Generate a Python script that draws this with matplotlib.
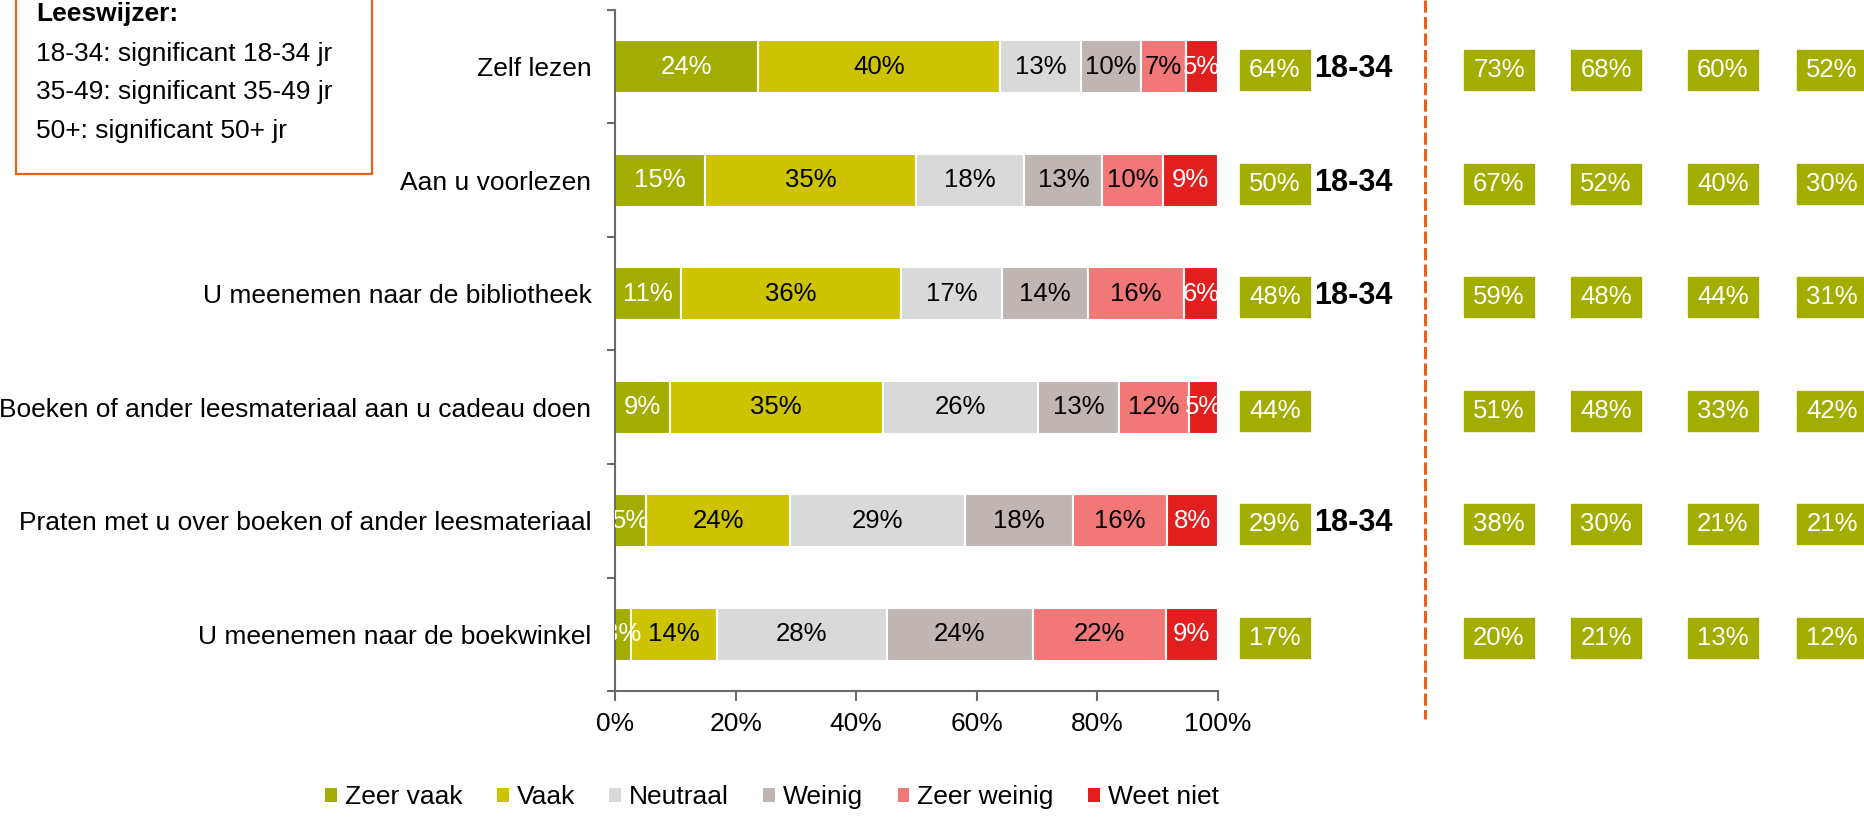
import numpy as np
import matplotlib.pyplot as plt
from matplotlib.patches import Rectangle, Patch

plt.rcParams['font.family'] = ['Liberation Sans', 'DejaVu Sans']

categories = ["Zelf lezen",
              "Aan u voorlezen",
              "U meenemen naar de bibliotheek",
              "Boeken of ander leesmateriaal aan u cadeau doen",
              "Praten met u over boeken of ander leesmateriaal",
              "U meenemen naar de boekwinkel"]
series_names = ["Zeer vaak", "Vaak", "Neutraal", "Weinig", "Zeer weinig", "Weet niet"]

zeer_vaak = [23.7, 15.0, 11.0, 9.1, 5.2, 2.6]
vaak = [40.2, 34.9, 36.4, 35.3, 23.9, 14.3]
neutraal = [13.4, 18.0, 16.8, 25.8, 28.9, 28.2]
weinig = [10.0, 12.9, 14.2, 13.4, 17.9, 24.2]
zeer_weinig = [7.4, 10.0, 16.0, 11.6, 15.7, 22.0]
weet_niet = [5.3, 9.2, 5.6, 4.8, 8.4, 8.7]

# (zeer) vaak: total and per group columns
totaal = [64, 50, 48, 44, 29, 17]
groep_a = [73, 67, 59, 51, 38, 20]
groep_b = [68, 52, 48, 48, 30, 21]
groep_c = [60, 40, 44, 33, 21, 13]
groep_d = [52, 30, 31, 42, 21, 12]
significant = ["18-34", "18-34", "18-34", "", "18-34", ""]

leeswijzer = ["18-34: significant 18-34 jr",
              "35-49: significant 35-49 jr",
              "50+: significant 50+ jr"]

colors = ['#a3ad00', '#cdc300', '#d9d9d9', '#bfb5b2', '#f27777', '#e31e1e']
text_colors = ['white', 'black', 'black', 'black', 'black', 'white']
axis_col = '#6a6a6a'
orange = '#e8601c'

W, H = 1864, 822
fig = plt.figure(figsize=(W / 100, H / 100), dpi=100)

# main stacked bar chart
ax = fig.add_axes([615 / W, 1 - 691 / H, 603 / W, 681 / H])
y = np.arange(len(categories))
left = np.zeros(len(categories))
all_series = [zeer_vaak, vaak, neutraal, weinig, zeer_weinig, weet_niet]
for name, vals, col, tc in zip(series_names, all_series, colors, text_colors):
    vals = np.array(vals)
    ax.barh(y, vals, left=left, height=0.47, color=col,
            edgecolor='white', linewidth=1.5, label=name)
    for yi, v, l in zip(y, vals, left):
        ax.text(l + v / 2, yi, f"{round(v):d}%", ha='center', va='center',
                color=tc, fontsize=18.5, clip_on=True)
    left += vals

ax.set_xlim(0, 100)
ax.set_ylim(5.5, -0.5)
ax.set_xticks(range(0, 101, 20))
ax.set_xticklabels([f"{v}%" for v in range(0, 101, 20)])
ax.set_yticks(y)
ax.set_yticklabels(categories, fontsize=19)
ax.set_yticks(np.arange(-0.5, 6, 1), minor=True)
ax.tick_params(axis='y', which='major', length=0, pad=17)
ax.tick_params(axis='y', which='minor', length=6, width=1.5, color=axis_col)
ax.tick_params(axis='x', length=7, width=1.5, color=axis_col, pad=8, labelsize=19)
for s in ['top', 'right']:
    ax.spines[s].set_visible(False)
for s in ['left', 'bottom']:
    ax.spines[s].set_color(axis_col)
    ax.spines[s].set_linewidth(1.5)

# right hand boxes, x in figure pixels, y in rows
rx = fig.add_axes([0, 1 - 691 / H, 1, 681 / H])
rx.set_xlim(0, W)
rx.set_ylim(5.5, -0.5)
rx.axis('off')
col_x = [1240, 1464, 1571, 1688, 1797]
box_w, box_h = 70, 0.352
for xs, vals in zip(col_x, [totaal, groep_a, groep_b, groep_c, groep_d]):
    for yi, v in zip(y, vals):
        rx.add_patch(Rectangle((xs, yi - box_h / 2 + 0.03), box_w, box_h,
                               color=colors[0], clip_on=False))
        rx.text(xs + box_w / 2, yi + 0.03, f"{v}%", ha='center', va='center',
                color='white', fontsize=18.5)
for yi, s in zip(y, significant):
    rx.text(1314, yi + 0.02, s, ha='left', va='center', fontsize=22,
            fontweight='bold')

# decorations in figure pixels
fx = fig.add_axes([0, 0, 1, 1])
fx.set_xlim(0, W)
fx.set_ylim(H, 0)
fx.axis('off')
fx.plot([1425, 1425], [0, 719], color=orange, lw=2.2, linestyle=(0, (4, 1.4)))
fx.add_patch(Rectangle((16, -5), 356, 179, fill=False, edgecolor=orange, lw=1.6))
fx.text(36, 21, "Leeswijzer:", fontsize=19, fontweight='bold', va='baseline')
for i, line in enumerate(leeswijzer):
    fx.text(36, 61 + 38.5 * i, line, fontsize=19, va='baseline')

handles = [Patch(facecolor=c) for c in colors]
fig.legend(handles, series_names, loc='center', bbox_to_anchor=(772 / W, 1 - 797 / H),
           ncol=6, frameon=False, fontsize=19, handlelength=0.45, handleheight=0.45,
           handletextpad=0.3, columnspacing=1.3)

fig.savefig('out.png', dpi=100)
